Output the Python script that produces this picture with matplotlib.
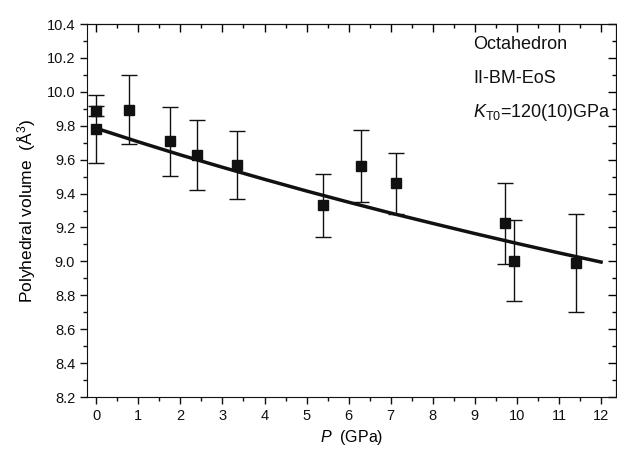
import matplotlib.pyplot as plt
import numpy as np
from matplotlib.ticker import MultipleLocator

plt.rcParams.update({
    "font.family": "Liberation Sans",
    "mathtext.fontset": "custom",
    "mathtext.rm": "Liberation Sans",
    "mathtext.it": "Liberation Sans:italic",
    "text.color": "#111111",
    "axes.edgecolor": "#111111",
})

# measured points
pressure = [0.0, 0.0, 0.78, 1.76, 2.39, 3.34, 5.38, 6.30, 7.13, 9.72, 9.94, 11.40]
volume = [9.887, 9.78, 9.895, 9.708, 9.627, 9.57, 9.33, 9.562, 9.462, 9.225, 9.005, 8.99]
err = [0.03, 0.20, 0.205, 0.205, 0.205, 0.20, 0.185, 0.21, 0.18, 0.24, 0.24, 0.29]

# BM-EoS fit curve
fit_p = [0, 1, 2, 3, 4, 5, 6, 7, 8, 9, 10, 11, 12]
fit_v = [9.785, 9.705, 9.628, 9.555, 9.484, 9.415, 9.349, 9.285, 9.224, 9.164, 9.106, 9.050, 8.996]

fig = plt.figure(figsize=(6.17, 4.53), dpi=100)
ax = fig.add_axes([0.141, 0.1236, 0.857, 0.8234])

ax.plot(fit_p, fit_v, color="#111111", lw=2.5, zorder=2)
ax.errorbar(pressure, volume, yerr=err, fmt="s", color="#111111", ms=7.5,
            ecolor="#111111", elinewidth=1.0, capsize=5.5, capthick=1.0, zorder=3)

ax.set_xlim(-0.22, 12.35)
ax.set_ylim(8.2, 10.4)
ax.xaxis.set_major_locator(MultipleLocator(1))
ax.xaxis.set_minor_locator(MultipleLocator(0.5))
ax.yaxis.set_major_locator(MultipleLocator(0.2))
ax.yaxis.set_minor_locator(MultipleLocator(0.1))
ax.yaxis.set_major_formatter(plt.FormatStrFormatter("%.1f"))
ax.tick_params(which="both", direction="out", labelsize=10.5, width=1.0, colors="#111111")
ax.tick_params(which="major", length=5)
ax.tick_params(which="minor", length=3)

top = ax.secondary_xaxis("top")
top.xaxis.set_major_locator(MultipleLocator(1))
top.xaxis.set_minor_locator(MultipleLocator(0.5))
top.tick_params(which="both", direction="in", labeltop=False, width=1.0)
top.tick_params(which="major", length=6)
top.tick_params(which="minor", length=3)
right = ax.secondary_yaxis("right")
right.yaxis.set_major_locator(MultipleLocator(0.2))
right.yaxis.set_minor_locator(MultipleLocator(0.1))
right.tick_params(which="both", direction="in", labelright=False, width=1.0)
right.tick_params(which="major", length=6)
right.tick_params(which="minor", length=3)

ax.set_xlabel("$P$  (GPa)", fontsize=11.5, labelpad=4)
ax.set_ylabel("Polyhedral volume  (Å$^{3}$)", fontsize=12.5, labelpad=6)

ax.text(0.73, 0.946, "Octahedron", transform=ax.transAxes, fontsize=13, va="center")
ax.text(0.73, 0.853, "II-BM-EoS", transform=ax.transAxes, fontsize=13, va="center")
ax.text(0.73, 0.764, r"$K_{\mathrm{T0}}$=120(10)GPa", transform=ax.transAxes, fontsize=13, va="center")

fig.savefig("out.png", dpi=100)
